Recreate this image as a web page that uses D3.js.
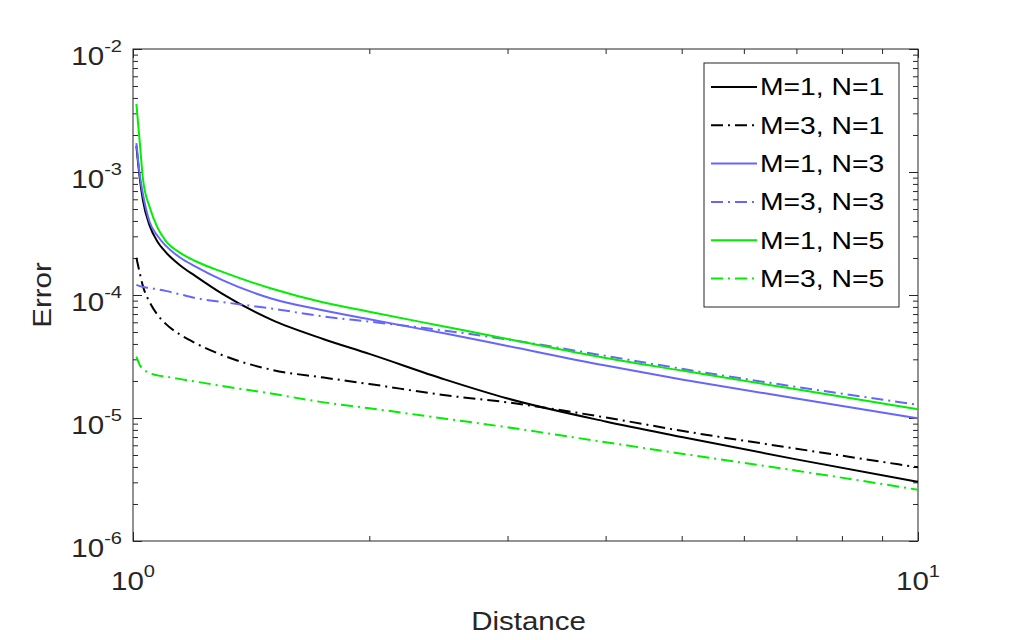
<!DOCTYPE html>
<html>
<head>
<meta charset="utf-8">
<script src="https://cdn.jsdelivr.net/npm/d3@7"></script>
<style>
  body { margin: 0; background: #fff; }
  svg { font-family: "Liberation Sans", Arial, Helvetica, sans-serif; }
</style>
</head>
<body>
<svg width="1017" height="640"></svg>
<script>
// distance samples shared by every curve
var distance = [1.01, 1.02, 1.03, 1.05, 1.075, 1.1, 1.15, 1.2, 1.3, 1.5, 1.75, 2, 2.5, 3, 4, 5, 7, 10];

// error values
var errM1N1 = [1.63e-3, 8.93e-4, 5.81e-4, 3.66e-4, 2.70e-4, 2.24e-4, 1.73e-4, 1.43e-4, 1.02e-4, 6.30e-5, 4.37e-5, 3.32e-5, 2.05e-5, 1.44e-5, 9.37e-6, 7.01e-6, 4.61e-6, 3.03e-6];
var errM3N1 = [2.01e-4, 1.51e-4, 1.17e-4, 8.75e-5, 6.87e-5, 5.85e-5, 4.73e-5, 4.07e-5, 3.24e-5, 2.47e-5, 2.13e-5, 1.89e-5, 1.53e-5, 1.34e-5, 1.01e-5, 7.87e-6, 5.63e-6, 3.97e-6];
var errM1N3 = [1.72e-3, 9.46e-4, 6.50e-4, 3.92e-4, 3.02e-4, 2.53e-4, 2.00e-4, 1.71e-4, 1.32e-4, 9.37e-5, 7.48e-5, 6.34e-5, 4.86e-5, 3.85e-5, 2.67e-5, 2.06e-5, 1.44e-5, 9.95e-6];
var errM3N3 = [1.21e-4, 1.18e-4, 1.16e-4, 1.14e-4, 1.11e-4, 1.08e-4, 1.01e-4, 9.46e-5, 8.77e-5, 7.77e-5, 6.69e-5, 6.07e-5, 5.13e-5, 4.35e-5, 3.20e-5, 2.51e-5, 1.79e-5, 1.28e-5];
var errM1N5 = [3.57e-3, 1.75e-3, 8.61e-4, 5.19e-4, 3.51e-4, 2.77e-4, 2.19e-4, 1.89e-4, 1.54e-4, 1.13e-4, 8.69e-5, 7.31e-5, 5.52e-5, 4.39e-5, 3.08e-5, 2.43e-5, 1.71e-5, 1.18e-5];
var errM3N5 = [3.15e-5, 2.70e-5, 2.50e-5, 2.32e-5, 2.22e-5, 2.17e-5, 2.07e-5, 1.98e-5, 1.82e-5, 1.58e-5, 1.34e-5, 1.20e-5, 9.87e-6, 8.40e-6, 6.35e-6, 5.13e-6, 3.73e-6, 2.61e-6];

var seriesNames = ["M=1, N=1", "M=3, N=1", "M=1, N=3", "M=3, N=3", "M=1, N=5", "M=3, N=5"];
var seriesValues = [errM1N1, errM3N1, errM1N3, errM3N3, errM1N5, errM3N5];
var seriesColors = ["#000000", "#000000", "#6666ff", "#6666ff", "#00ee00", "#00ee00"];
var seriesDashed = [false, true, false, true, false, true];

var xDecades = [0, 1];
var yDecades = [-6, -5, -4, -3, -2];

var svg = d3.select("svg"),
    margin = {top: 49, right: 99, bottom: 99, left: 133},
    width = +svg.attr("width") - margin.left - margin.right,
    height = +svg.attr("height") - margin.top - margin.bottom,
    g = svg.append("g").attr("transform", "translate(" + margin.left + "," + margin.top + ")");

var x = d3.scaleLog().domain([1, 10]).range([0, width]),
    y = d3.scaleLog().domain([1e-6, 1e-2]).range([height, 0]);

var axisColor = "#262626";
var stretch = 1.18; // the original font runs wider than Arial

// text placed at (px, py), widened a bit along its baseline
function addText(parent, px, py, size, anchor, angle) {
  return parent.append("text")
    .attr("transform", "translate(" + px + "," + py + ")" + (angle ? " rotate(" + angle + ")" : "") + " scale(" + stretch + ",1)")
    .attr("text-anchor", anchor)
    .attr("font-size", size);
}

// minor ticks 2..9 within each decade
var xMinor = [];
for (var k = 2; k <= 9; k++) xMinor.push(k);
var yMinor = [];
for (var e = -6; e < -2; e++) {
  for (var m = 2; m <= 9; m++) yMinor.push(m * Math.pow(10, e));
}
var xMajor = xDecades.map(function(d) { return Math.pow(10, d); });
var yMajor = yDecades.map(function(d) { return Math.pow(10, d); });

function drawAxis(axis, tr) {
  var a = g.append("g").attr("transform", tr).call(axis);
  a.select(".domain").remove();
  a.selectAll("line").attr("stroke", axisColor).attr("stroke-width", 1);
  a.selectAll("text").remove();
}

// inward ticks on all four sides
drawAxis(d3.axisBottom(x).tickValues(xMajor).tickSize(-9), "translate(0," + height + ")");
drawAxis(d3.axisBottom(x).tickValues(xMinor).tickSize(-5), "translate(0," + height + ")");
drawAxis(d3.axisTop(x).tickValues(xMajor).tickSize(-9), "translate(0,0)");
drawAxis(d3.axisTop(x).tickValues(xMinor).tickSize(-5), "translate(0,0)");
drawAxis(d3.axisLeft(y).tickValues(yMajor).tickSize(-9), "translate(0,0)");
drawAxis(d3.axisLeft(y).tickValues(yMinor).tickSize(-5), "translate(0,0)");
drawAxis(d3.axisRight(y).tickValues(yMajor).tickSize(-9), "translate(" + width + ",0)");
drawAxis(d3.axisRight(y).tickValues(yMinor).tickSize(-5), "translate(" + width + ",0)");

// box
g.append("rect")
  .attr("x", 0).attr("y", 0)
  .attr("width", width).attr("height", height)
  .attr("fill", "none")
  .attr("stroke", axisColor)
  .attr("stroke-width", 1);

// tick labels as 10^n
function powLabel(sel, exp) {
  sel.append("tspan").text("10");
  sel.append("tspan").attr("dy", -13).attr("font-size", 17).text(exp);
}

yDecades.forEach(function(d) {
  var t = addText(g, -11, y(Math.pow(10, d)) + 16, 25, "end").attr("fill", axisColor);
  powLabel(t, String(d));
});

xDecades.forEach(function(d) {
  var t = addText(g, x(Math.pow(10, d)), height + 49, 25, "middle").attr("fill", axisColor);
  powLabel(t, String(d));
});

// axis titles
addText(g, width / 2 + 3, height + 89, 25, "middle")
  .attr("fill", axisColor)
  .text("Distance");

addText(g, -82, height / 2, 25, "middle", -90)
  .attr("fill", axisColor)
  .text("Error");

// curves
var line = d3.line()
  .x(function(d) { return x(d[0]); })
  .y(function(d) { return y(d[1]); })
  .curve(d3.curveMonotoneX);

seriesValues.forEach(function(vals, i) {
  g.append("path")
    .datum(distance.map(function(dv, j) { return [dv, vals[j]]; }))
    .attr("d", line)
    .attr("fill", "none")
    .attr("stroke", seriesColors[i])
    .attr("stroke-width", 2)
    .attr("stroke-dasharray", seriesDashed[i] ? "12,5,2,5" : null);
});

// legend
var legend = g.append("g").attr("transform", "translate(" + (width - 214) + ",14)");
legend.append("rect")
  .attr("width", 195).attr("height", 244)
  .attr("fill", "#fff")
  .attr("stroke", axisColor)
  .attr("stroke-width", 1);

seriesNames.forEach(function(name, i) {
  var row = legend.append("g").attr("transform", "translate(0," + (24 + i * 38.3) + ")");
  row.append("line")
    .attr("x1", 7).attr("x2", 53)
    .attr("stroke", seriesColors[i])
    .attr("stroke-width", 2)
    .attr("stroke-dasharray", seriesDashed[i] ? "12,5,2,5" : null);
  addText(row, 56, 0, 24, "start")
    .attr("dy", "0.35em")
    .attr("fill", "#000")
    .text(name);
});
</script>
</body>
</html>
